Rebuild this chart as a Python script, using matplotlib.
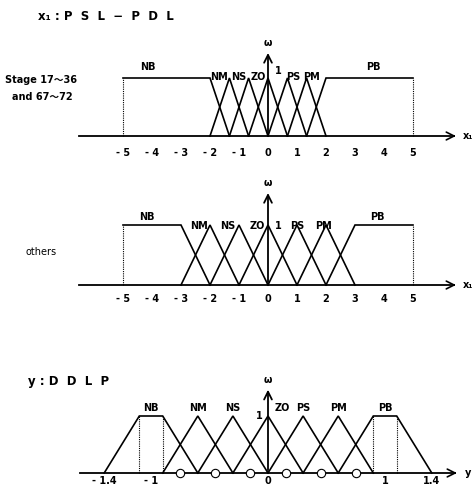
import matplotlib
matplotlib.use("Agg")
from matplotlib import pyplot as plt

# ensembles flous : points (a, b, c, d) d'un trapeze, un triangle a b == c
labels = ["NB", "NM", "NS", "ZO", "PS", "PM", "PB"]

stage_sets = [[-5, -5, -2, -1.33], [-2, -1.33, -1.33, -0.67], [-1.33, -0.67, -0.67, 0],
              [-0.67, 0, 0, 0.67], [0, 0.67, 0.67, 1.33], [0.67, 1.33, 1.33, 2], [1.33, 2, 5, 5]]
others_sets = [[-5, -5, -3, -2], [-3, -2, -2, -1], [-2, -1, -1, 0],
               [-1, 0, 0, 1], [0, 1, 1, 2], [1, 2, 2, 3], [2, 3, 5, 5]]
ddlp_sets = [[-1.4, -1.1, -0.9, -0.6], [-0.9, -0.6, -0.6, -0.3], [-0.6, -0.3, -0.3, 0],
             [-0.3, 0, 0, 0.3], [0, 0.3, 0.3, 0.6], [0.3, 0.6, 0.6, 0.9], [0.6, 0.9, 1.1, 1.4]]

x_ticks = [-5, -4, -3, -2, -1, 0, 1, 2, 3, 4, 5]
y_ticks = [-1.4, -1, 0, 1, 1.4]
y_ticklabels = ["-1.4", "-1", "0", "1", "1.4"]
ddlp_circles = [-0.75, -0.45, -0.15, 0.15, 0.45, 0.75]

W, H = 475, 492
fig = plt.figure(figsize=(W / 100, H / 100), dpi=100)
fnt = dict(fontsize=7, fontweight="bold", family="DejaVu Sans")


def make_ax(x0_px, unit_px, axis_py, top_py, py_from, py_to):
    # axes qui couvre toute la largeur, echelles calees sur les pixels
    ax = fig.add_axes([0, 1 - py_to / H, 1, (py_to - py_from) / H])
    uy = axis_py - top_py
    ax.set_xlim(-x0_px / unit_px, (W - x0_px) / unit_px)
    ax.set_ylim((axis_py - py_to) / uy, (axis_py - py_from) / uy)
    ax.axis("off")
    return ax, unit_px, uy


def draw_panel(ax, ux, uy, sets, x_end, y_top, lab_dx, lab_dy, dotted):
    # axe des x avec fleche
    ax.plot([x_end[0], x_end[1]], [0, 0], color="black", lw=1.3)
    ax.annotate("", xy=(x_end[1] + 8 / ux, 0), xytext=(x_end[1] - 1 / ux, 0),
                arrowprops=dict(arrowstyle="->", lw=1.2, mutation_scale=14))
    # axe omega
    ax.annotate("", xy=(0, y_top), xytext=(0, 0),
                arrowprops=dict(arrowstyle="->", lw=1.3, mutation_scale=14))
    ax.text(0, y_top + 2 / uy, "ω", ha="center", va="bottom", **fnt)
    for i, (a, b, c, d) in enumerate(sets):
        xs, ys = [b, c], [1, 1]
        if a != b:
            xs, ys = [a] + xs, [0] + ys
        if c != d:
            xs, ys = xs + [d], ys + [0]
        ax.plot(xs, ys, color="black", lw=1.2, solid_joinstyle="miter")
        for xv in dotted(a, b, c, d):
            ax.plot([xv, xv], [0, 1], color="black", lw=0.8, ls=(0, (1, 1)))
        ax.text((b + c) / 2 + lab_dx[i] / ux, 1 + lab_dy[i] / uy, labels[i],
                ha="center", va="center", **fnt)


# panneau 1 : Stage 17~36 and 67~72
ax1, ux, uy = make_ax(268, 29, 136, 78, 30, 165)
draw_panel(ax1, ux, uy, stage_sets, (-6.5, 6.3), 1.48,
           [-19, -10, -10, -10, 6, 5, 4], [11, 1, 1, 1, 1, 1, 11],
           lambda a, b, c, d: [v for v, w in ((a, b), (d, c)) if v == w])
for t in x_ticks:
    ax1.text(t, -17 / uy, str(t).replace("-", "- "), ha="center", va="center", **fnt)
ax1.text(7 / ux, 1.12, "1", ha="left", va="center", **fnt)
ax1.text(6.72, 0, "x\u2081", ha="left", va="center", **fnt)

# panneau 2 : others
ax2, ux, uy = make_ax(268, 29, 285, 225, 165, 320)
draw_panel(ax2, ux, uy, others_sets, (-6.5, 6.3), 1.58,
           [-5, -11, -11, -11, 0, -2, -7], [8, -1, -1, -1, -1, -1, 8],
           lambda a, b, c, d: [v for v, w in ((a, b), (d, c)) if v == w])
for t in x_ticks:
    ax2.text(t, -14 / uy, str(t).replace("-", "- "), ha="center", va="center", **fnt)
ax2.text(7 / ux, 1 - 1 / uy, "1", ha="left", va="center", **fnt)
ax2.text(6.72, 0, "x\u2081", ha="left", va="center", **fnt)

# panneau 3 : y DDLP
ax3, ux, uy = make_ax(268, 117, 473, 416, 360, 492)
draw_panel(ax3, ux, uy, ddlp_sets, (-1.61, 1.57), 1.51,
           [0, 0, 0, 14, 0, 0, 0], [8, 8, 8, 8, 8, 8, 8],
           lambda a, b, c, d: [b, c] if b != c else [])
for t, s in zip(y_ticks, y_ticklabels):
    ax3.text(t, -8 / uy, s.replace("-", "- "), ha="center", va="center", **fnt)
ax3.plot(ddlp_circles, [0] * len(ddlp_circles), "o", ms=6, mfc="white",
         mec="black", mew=0.8)
ax3.text(-5 / ux, 1, "1", ha="right", va="center", **fnt)
ax3.text(1.68, 0, "y", ha="left", va="center", **fnt)

# titres et legendes a gauche
tfnt = dict(fontsize=8.5, fontweight="bold", family=["DejaVu Sans"])
fig.text(38 / W, 1 - 16 / H, "x\u2081 : P  S  L  \u2212  P  D  L", ha="left", va="center", **tfnt)
fig.text(28 / W, 1 - 382 / H, "y : D  D  L  P", ha="left", va="center", **tfnt)
sfnt = dict(fontsize=7, fontweight="bold", family=["DejaVu Sans", "Noto Sans CJK JP"])
fig.text(5 / W, 1 - 80 / H, "Stage 17\uff5e36", ha="left", va="center", **sfnt)
fig.text(12 / W, 1 - 97 / H, "and 67\uff5e72", ha="left", va="center", **sfnt)
fig.text(25 / W, 1 - 252 / H, "others", ha="left", va="center",
         fontsize=7, family="DejaVu Sans")

fig.savefig("out.png", dpi=100)
